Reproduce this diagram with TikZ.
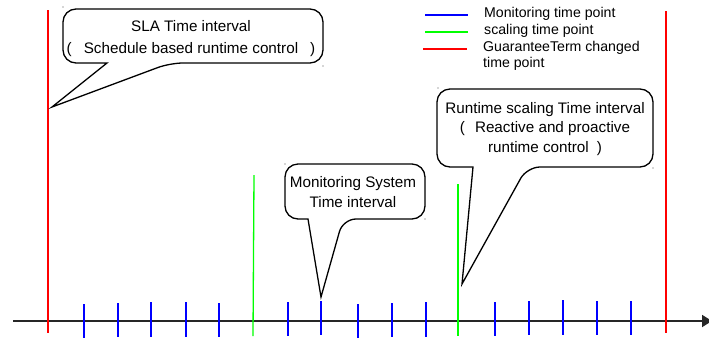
\documentclass[tikz,border=0pt]{standalone}
\usepackage{fontspec}
\setmainfont{Liberation Sans}
\usetikzlibrary{arrows.meta}
\begin{document}
\begin{tikzpicture}[x=1bp,y=-1bp,
  axisline/.style={line width=1.8bp, black!85},
  mtick/.style={blue, line width=1.3bp},
  stick/.style={green, line width=1.3bp},
  gtick/.style={red, line width=1.3bp},
  bubble/.style={draw=black, line width=1.3bp, fill=white, line join=miter},
  btext/.style={font=\fontsize{15.3}{#1}\selectfont, align=center, inner sep=0pt},
  ltext/.style={font=\fontsize{14.2}{16}\selectfont, anchor=west, align=left, inner sep=0pt},
  speck/.style={fill=black!70, inner sep=0pt, minimum size=1.2bp, circle}]
\useasboundingbox (0,0) rectangle (709,338);
% axis
\coordinate (axL) at (13,321);
\coordinate (axR) at (712,321);
\draw[axisline, -{Triangle[length=10bp,width=12bp]}] (axL) -- (axR);
% monitoring ticks
\foreach \x/\t/\b in {84/304/338, 118/303/337, 151/302/337, 186/302/337, 219/303/337,
  288/302/336, 321/301/335, 358/304/338, 392/303/337, 426/302/337,
  495/302/336, 529/301/335, 563/300/335, 597/301/335, 631/301/335}
  \draw[mtick] (\x,\t) -- (\x,\b);
% scaling points
\draw[stick] (254,175) -- (253,336);
\draw[stick] (458,184) -- (458,336);
% guarantee term changed points
\draw[gtick] (48,10) -- (48,333);
\draw[gtick] (666,11) -- (666,333);
% legend
\draw[mtick] (425,15) -- (468,15);
\draw[stick] (425,32) -- (468,32);
\draw[gtick] (423,49) -- (467,49);
\node[ltext] (lgm) at (484,14) {Monitoring time point};
\node[ltext] (lgs) at (484,31) {scaling time point};
\node[ltext] (lgg) at (483,56) {GuaranteeTerm changed\\time point};
% callout: SLA
\draw[bubble, rounded corners=13bp] (107,63) -- (63,63) -- (63,9) -- (323,9) -- (323,63) -- (170,63)
  [sharp corners] -- (52,107) -- cycle;
\node[btext=22] (sla) at (191,39) {SLA Time interval\\(\hspace{12bp}Schedule based runtime control\hspace{12bp})};
% callout: monitoring system
\draw[bubble, rounded corners=13bp] (308,219) -- (285,219) -- (285,164) -- (425,164) -- (425,219) -- (343,219)
  [sharp corners] -- (321,297) -- cycle;
\node[btext=20] (mon) at (353,192) {Monitoring System\\Time interval};
% callout: runtime scaling
\draw[bubble, rounded corners=13bp] (473,167) -- (437,167) -- (437,89) -- (653,89) -- (653,167) -- (527,167)
  [sharp corners] -- (462,284) -- cycle;
\node[btext=20] (rts) at (545,129) {Runtime scaling Time interval\\(\hspace{10bp}Reactive and proactive\\runtime control\hspace{8bp})};
% tiny specks at bubble frame corners
\node[speck] (s1) at (63,7) {};
\node[speck] (s2) at (323,66) {};
\node[speck] (s3) at (285,164) {};
\node[speck] (s4) at (425,219) {};
\node[speck] (s5) at (438,88) {};
\node[speck] (s6) at (653,168) {};
\end{tikzpicture}
\end{document}
